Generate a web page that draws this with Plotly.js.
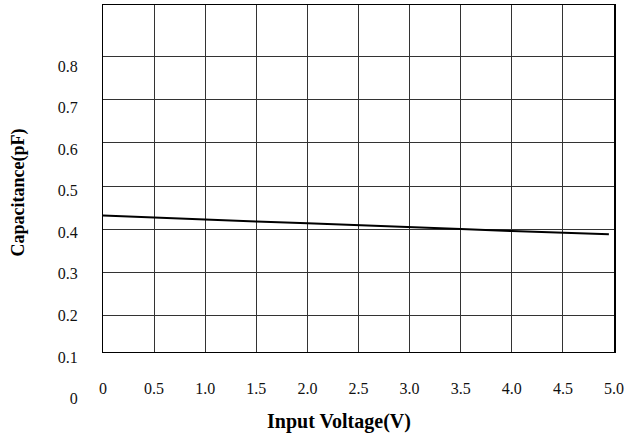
<!DOCTYPE html>
<html>
<head>
<meta charset="utf-8">
<script src="https://cdn.plot.ly/plotly-3.0.1.min.js"></script>
<style>html,body{margin:0;padding:0;background:#fff;}#chart{width:630px;height:437px;}</style>
</head>
<body>
<div id="chart"></div>
<script>
// Data
var voltage = [0, 0.5, 1.0, 1.5, 2.0, 2.5, 3.0, 3.5, 4.0, 4.5, 4.95];
var capacitance = [0.432, 0.427, 0.423, 0.418, 0.414, 0.410, 0.405, 0.401, 0.396, 0.392, 0.3885];

var xTickVals = [0, 0.5, 1.0, 1.5, 2.0, 2.5, 3.0, 3.5, 4.0, 4.5, 5.0];
var xTickText = ["0", "0.5", "1.0", "1.5", "2.0", "2.5", "3.0", "3.5", "4.0", "4.5", "5.0"];
var yTickVals = [0, 0.1, 0.2, 0.3, 0.4, 0.5, 0.6, 0.7, 0.8];
var yTickText = ["0", "0.1", "0.2", "0.3", "0.4", "0.5", "0.6", "0.7", "0.8"];

var xTitle = "Input Voltage(V)";
var yTitle = "Capacitance(pF)";

var FONT = "Liberation Serif, Times New Roman, serif";

var trace = {
  x: voltage,
  y: capacitance,
  type: "scatter",
  mode: "lines",
  line: {color: "#000", width: 2},
  hoverinfo: "x+y",
  showlegend: false
};

// empty helper trace so the label axis (y2) is created on its own hidden x axis
var labelAxisTrace = {
  x: [],
  y: [],
  type: "scatter",
  mode: "lines",
  xaxis: "x2",
  yaxis: "y2",
  hoverinfo: "skip",
  showlegend: false
};

var tickFont = {family: FONT, size: 16, color: "#111", weight: "normal"};

var layout = {
  width: 630,
  height: 437,
  margin: {l: 103, r: 16, t: 5, b: 17, pad: 0},
  paper_bgcolor: "#fff",
  plot_bgcolor: "rgba(0,0,0,0)",
  showlegend: false,
  font: {family: FONT, size: 16, color: "#111", weight: "normal"},
  xaxis: {
    range: [0, 5],
    tickvals: xTickVals,
    ticktext: xTickText,
    showgrid: true,
    gridcolor: "#333",
    gridwidth: 1,
    zeroline: false,
    showline: true,
    mirror: true,
    linecolor: "#000",
    linewidth: 1.5,
    ticks: "outside",
    ticklen: 21,
    tickcolor: "rgba(0,0,0,0)",
    tickfont: tickFont,
    fixedrange: true
  },
  yaxis: {
    domain: [0.16386, 1],
    range: [0.1169, 0.9177],
    tickvals: yTickVals,
    showticklabels: false,
    ticks: "",
    showgrid: true,
    gridcolor: "#333",
    gridwidth: 1,
    zeroline: false,
    showline: true,
    mirror: true,
    linecolor: "#000",
    linewidth: 1.5,
    fixedrange: true
  },
  xaxis2: {
    range: [0, 5],
    anchor: "y2",
    visible: false,
    showgrid: false,
    zeroline: false,
    fixedrange: true
  },
  yaxis2: {
    domain: [0.05157, 0.85301],
    range: [0, 0.8],
    anchor: "free",
    position: 0,
    tickvals: yTickVals,
    ticktext: yTickText,
    showgrid: false,
    zeroline: false,
    showline: false,
    ticks: "outside",
    ticklen: 22,
    tickcolor: "rgba(0,0,0,0)",
    tickfont: tickFont,
    fixedrange: true
  },
  annotations: [
    {
      text: xTitle,
      xref: "paper", yref: "paper",
      x: (338.5 - 103) / 511, y: (420 - 421) / 415,
      xanchor: "center", yanchor: "middle",
      showarrow: false,
      font: {family: FONT, size: 20, color: "#000", weight: "bold"}
    },
    {
      text: yTitle,
      xref: "paper", yref: "paper",
      x: (17.5 - 103) / 511, y: (420 - 193) / 415,
      xanchor: "center", yanchor: "middle",
      textangle: -90,
      showarrow: false,
      font: {family: FONT, size: 18, color: "#000", weight: "bold"}
    }
  ]
};

Plotly.newPlot("chart", [trace, labelAxisTrace], layout, {displayModeBar: false, staticPlot: true});
</script>
</body>
</html>
